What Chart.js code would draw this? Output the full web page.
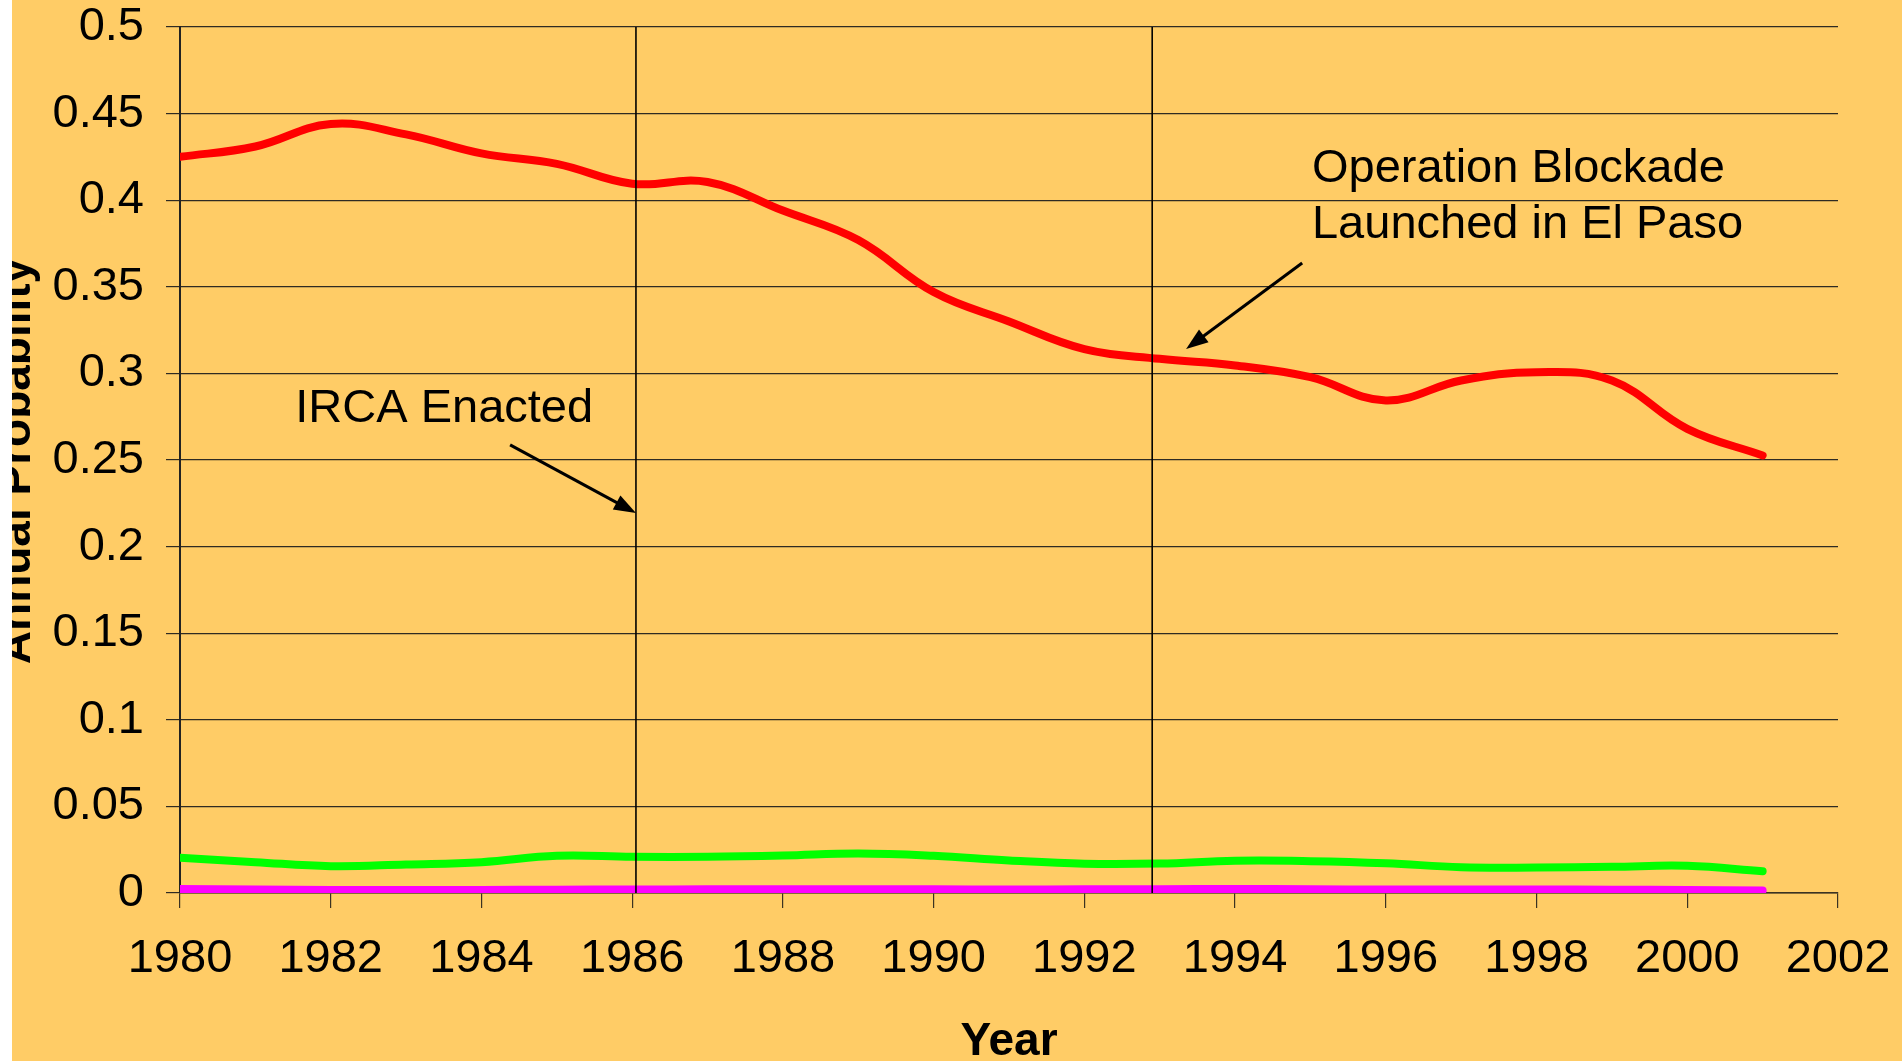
<!DOCTYPE html>
<html>
<head>
<meta charset="utf-8">
<script src="https://cdn.jsdelivr.net/npm/chart.js@4.4.1/dist/chart.umd.min.js"></script>
<style>
  html, body { margin: 0; padding: 0; background: #ffffff; width: 1902px; height: 1061px; overflow: hidden; }
  #marco { position: absolute; left: 12px; top: 0; width: 1890px; height: 1061px; background: #FFCC66; }
</style>
</head>
<body>
<div id="marco"><canvas id="grafico-probabilidad"></canvas></div>
<script>
// datos
const anios = [1980, 1981, 1982, 1983, 1984, 1985, 1986, 1987, 1988, 1989, 1990,
               1991, 1992, 1993, 1994, 1995, 1996, 1997, 1998, 1999, 2000, 2001];
const serieRoja = [0.425, 0.431, 0.444, 0.438, 0.427, 0.421, 0.4095, 0.4105, 0.394, 0.377, 0.347,
                   0.330, 0.314, 0.3084, 0.3046, 0.2978, 0.2844, 0.2959, 0.3007, 0.2959, 0.268, 0.2526];
const serieVerde = [0.0203, 0.0178, 0.0155, 0.0165, 0.0178, 0.0215, 0.0209, 0.0209, 0.0216, 0.0228, 0.0215,
                    0.0188, 0.0169, 0.017, 0.0186, 0.0184, 0.0172, 0.0149, 0.0147, 0.0151, 0.0157, 0.0126];
const serieMagenta = [0.0023, 0.002, 0.0018, 0.0018, 0.0018, 0.0019, 0.002, 0.0021, 0.0022, 0.0022, 0.0021,
                      0.002, 0.0021, 0.0022, 0.0023, 0.0022, 0.002, 0.002, 0.002, 0.0019, 0.0017, 0.0015];
const eventos = [1986.05, 1992.9];
const ticksX = ['1980', '1982', '1984', '1986', '1988', '1990', '1992', '1994', '1996', '1998', '2000', '2002'];
const ticksY = ['0', '0.05', '0.1', '0.15', '0.2', '0.25', '0.3', '0.35', '0.4', '0.45', '0.5'];
const tituloX = 'Year';
const tituloY = 'Annual Probability';
const notas = [
  { lineas: ['IRCA Enacted'], x: 1981.53, y: 0.2719, desde: [1984.38, 0.2587], hasta: [1986.05, 0.2194] },
  { lineas: ['Operation Blockade', 'Launched in El Paso'], x: 1995.02, y: 0.4105, desde: [1994.89, 0.3637], hasta: [1993.35, 0.3141] }
];

const FUENTE = "'Liberation Sans', Arial, sans-serif";

const aPuntos = vals => anios.map((a, i) => ({ x: a, y: vals[i] }));

// titulos de ejes y flechas con texto
const pluginNotas = {
  id: 'notas',
  afterDatasetsDraw(chart) {
    const { ctx, scales: { x, y }, chartArea } = chart;
    ctx.save();
    ctx.fillStyle = '#000';
    ctx.strokeStyle = '#000';

    notas.forEach(n => {
      ctx.font = `47px ${FUENTE}`;
      ctx.textAlign = 'left';
      ctx.textBaseline = 'alphabetic';
      n.lineas.forEach((t, i) => ctx.fillText(t, x.getPixelForValue(n.x), y.getPixelForValue(n.y) + i * 56));

      const x1 = x.getPixelForValue(n.desde[0]), y1 = y.getPixelForValue(n.desde[1]);
      const x2 = x.getPixelForValue(n.hasta[0]), y2 = y.getPixelForValue(n.hasta[1]);
      const ang = Math.atan2(y2 - y1, x2 - x1);
      const largo = 22, ancho = 8;
      ctx.lineWidth = 3;
      ctx.beginPath();
      ctx.moveTo(x1, y1);
      ctx.lineTo(x2 - Math.cos(ang) * largo * 0.8, y2 - Math.sin(ang) * largo * 0.8);
      ctx.stroke();
      ctx.beginPath();
      ctx.moveTo(x2, y2);
      ctx.lineTo(x2 - Math.cos(ang) * largo - Math.sin(ang) * ancho, y2 - Math.sin(ang) * largo + Math.cos(ang) * ancho);
      ctx.lineTo(x2 - Math.cos(ang) * largo + Math.sin(ang) * ancho, y2 - Math.sin(ang) * largo - Math.cos(ang) * ancho);
      ctx.closePath();
      ctx.fill();
    });

    ctx.font = `bold 46px ${FUENTE}`;
    ctx.textAlign = 'center';
    ctx.textBaseline = 'alphabetic';
    ctx.fillText(tituloX, (chartArea.left + chartArea.right) / 2, 1055);

    ctx.translate(18, (chartArea.top + chartArea.bottom) / 2 + 1);
    ctx.rotate(-Math.PI / 2);
    ctx.fillText(tituloY, 0, 0);
    ctx.restore();
  }
};

const lineaEvento = xv => ({
  data: [{ x: xv, y: 0 }, { x: xv, y: 0.5 }],
  borderColor: '#000',
  borderWidth: 1.6,
  pointRadius: 0,
  tension: 0,
  order: 0
});

const serie = (vals, color, ancho) => ({
  data: aPuntos(vals),
  borderColor: color,
  backgroundColor: color,
  borderWidth: ancho,
  borderCapStyle: 'round',
  borderJoinStyle: 'round',
  pointRadius: 0,
  tension: 0.4,
  fill: false,
  order: 1
});

new Chart(document.getElementById('grafico-probabilidad'), {
  type: 'line',
  data: {
    datasets: [
      ...eventos.map(lineaEvento),
      serie(serieMagenta, '#FF00FF', 8),
      serie(serieVerde, '#00FF00', 8),
      serie(serieRoja, '#FF0000', 8)
    ]
  },
  options: {
    responsive: true,
    maintainAspectRatio: false,
    animation: false,
    layout: { padding: { top: 0, right: 64, left: 0, bottom: 0 } },
    plugins: { legend: { display: false }, tooltip: { enabled: false } },
    scales: {
      x: {
        type: 'linear',
        min: 1980,
        max: 2002,
        afterFit: s => { s.height = 168; s.paddingLeft = 0; s.paddingRight = 0; },
        afterBuildTicks: s => { s.ticks = ticksX.map(t => ({ value: Number(t) })); },
        ticks: {
          color: '#000',
          font: { family: FUENTE, size: 47 },
          padding: 23,
          maxRotation: 0,
          autoSkip: false,
          callback: (v, i) => ticksX[i]
        },
        grid: { drawOnChartArea: false, drawTicks: true, tickLength: 15, color: '#3b3222', lineWidth: 1.2 },
        border: { display: true, color: '#3b3222', width: 1.5 }
      },
      y: {
        min: 0,
        max: 0.5,
        afterFit: s => { s.width = 168; s.paddingTop = 27; s.paddingBottom = 0; },
        afterBuildTicks: s => { s.ticks = ticksY.map(t => ({ value: Number(t) })); },
        ticks: {
          color: '#000',
          font: { family: FUENTE, size: 47 },
          padding: 22,
          autoSkip: false,
          callback: (v, i) => ticksY[i]
        },
        grid: { drawOnChartArea: true, drawTicks: true, tickLength: 14, color: '#2e2a22', lineWidth: 1.2 },
        border: { display: true, color: '#222', width: 2 }
      }
    }
  },
  plugins: [pluginNotas]
});
</script>
</body>
</html>
